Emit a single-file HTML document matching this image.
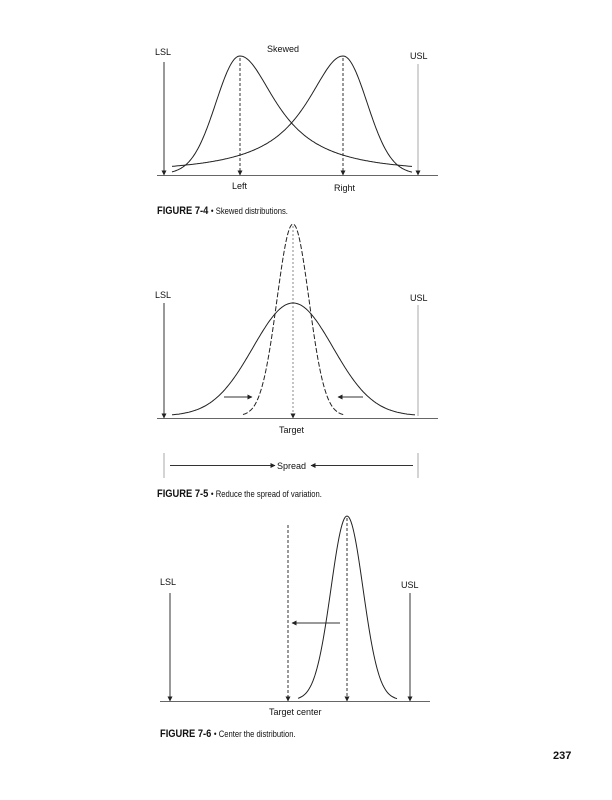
<!DOCTYPE html>
<html><head><meta charset="utf-8"><style>
body{margin:0;background:#fff;}
svg{display:block}
text{font-family:"Liberation Sans",sans-serif;fill:#111}
.cap{font-family:"Liberation Sans Narrow","Liberation Sans",sans-serif;font-weight:bold;font-size:11px}
.capt{font-size:9px}
</style></head><body>
<svg id="s" width="612" height="800" viewBox="0 0 612 800" xmlns="http://www.w3.org/2000/svg">
<defs>
<marker id="a" viewBox="0 0 10 10" refX="9" refY="5" markerWidth="5" markerHeight="5" orient="auto"><path d="M0,0L10,5L0,10z" fill="#222"/></marker>
</defs>
<g stroke="#333" stroke-width="1" fill="none">
<line x1="157" y1="175.5" x2="438" y2="175.5" stroke="#666"/>
<line x1="164" y1="62" x2="164" y2="175" marker-end="url(#a)"/>
<line x1="418" y1="64" x2="418" y2="175" stroke="#aaa" marker-end="url(#a)"/>
<line x1="240" y1="58" x2="240" y2="175" stroke-dasharray="3,2" marker-end="url(#a)"/>
<line x1="343" y1="58" x2="343" y2="175" stroke-dasharray="3,2" marker-end="url(#a)"/>
<path id="c1" stroke="#222"/><path id="c2" stroke="#222"/>
<line x1="157" y1="418.5" x2="438" y2="418.5" stroke="#666"/>
<line x1="164" y1="303" x2="164" y2="418" marker-end="url(#a)"/>
<line x1="418" y1="305" x2="418" y2="416" stroke="#aaa"/>
<line x1="293" y1="226" x2="293" y2="418" stroke="#888" stroke-dasharray="2,2" marker-end="url(#a)"/>
<path id="c3" stroke="#222"/><path id="c4" stroke="#222" stroke-dasharray="5,2"/>
<line x1="224" y1="397" x2="252" y2="397" marker-end="url(#a)"/>
<line x1="363" y1="397" x2="338" y2="397" marker-end="url(#a)"/>
<line x1="164" y1="453" x2="164" y2="478" stroke="#aaa"/>
<line x1="418" y1="453" x2="418" y2="478" stroke="#aaa"/>
<line x1="170" y1="465.5" x2="275" y2="465.5" marker-end="url(#a)"/>
<line x1="413" y1="465.5" x2="311" y2="465.5" marker-end="url(#a)"/>
<line x1="160" y1="701.5" x2="430" y2="701.5" stroke="#666"/>
<line x1="170" y1="593" x2="170" y2="701" marker-end="url(#a)"/>
<line x1="410" y1="593" x2="410" y2="701" marker-end="url(#a)"/>
<line x1="288" y1="525" x2="288" y2="701" stroke-dasharray="3,2" marker-end="url(#a)"/>
<line x1="347" y1="518" x2="347" y2="701" stroke-dasharray="3,2" marker-end="url(#a)"/>
<line x1="340" y1="623" x2="292" y2="623" marker-end="url(#a)"/>
<path id="c5" stroke="#222"/>
</g>
<g font-size="9">
<text x="155" y="55">LSL</text>
<text x="410" y="59">USL</text>
<text x="267" y="52">Skewed</text>
<text x="232" y="189">Left</text>
<text x="334" y="191">Right</text>
<text x="155" y="298">LSL</text>
<text x="410" y="301">USL</text>
<text x="279" y="433">Target</text>
<text x="277" y="469">Spread</text>
<text x="160" y="585">LSL</text>
<text x="401" y="588">USL</text>
<text x="269" y="715">Target center</text>
</g>
<g transform="translate(157,214) scale(0.85,1)"><text x="0" y="0" class="cap">FIGURE 7-4 <tspan class="capt" font-weight="normal">• Skewed distributions.</tspan></text></g>
<g transform="translate(157,497) scale(0.85,1)"><text x="0" y="0" class="cap">FIGURE 7-5 <tspan class="capt" font-weight="normal">• Reduce the spread of variation.</tspan></text></g>
<g transform="translate(160,737) scale(0.85,1)"><text x="0" y="0" class="cap">FIGURE 7-6 <tspan class="capt" font-weight="normal">• Center the distribution.</tspan></text></g>
<text x="553" y="759" font-weight="bold" font-size="11">237</text>
</svg>
<script>
function mk(id,x0,x1,f){var d="";for(var x=x0;x<=x1;x+=1){d+=(x==x0?"M":"L")+x+","+f(x).toFixed(1);}document.getElementById(id).setAttribute("d",d);}
function sk(c,dir){return function(x){var t=(x-c)*dir;var v=t<0?Math.exp(-t*t/(2*24*24)):1/(1+(t/45)*(t/45));return 174-118*v;};}
mk("c1",172,412,sk(240,1));
mk("c2",172,412,sk(343,-1));
function g(c,s,b,h){return function(x){var t=(x-c)/s;return b-h*Math.exp(-t*t/2);};}
mk("c3",172,415,g(293,40,416,113));
mk("c4",243,345,g(293,16,416,192));
mk("c5",298,397,g(347,16,700,184));
</script>
</body></html>
